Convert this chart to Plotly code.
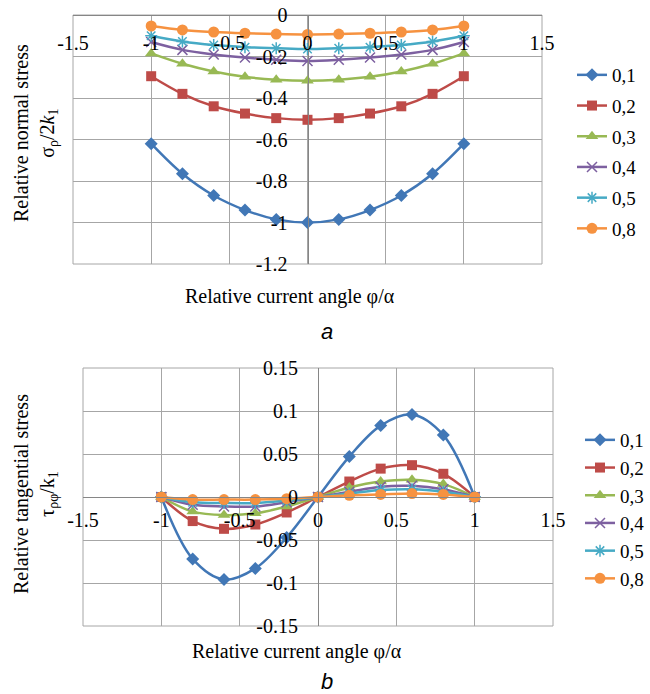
import plotly.graph_objects as go

# ---------------- data ----------------
phi = [-1, -0.8, -0.6, -0.4, -0.2, 0, 0.2, 0.4, 0.6, 0.8, 1]
series_names = ["0,1", "0,2", "0,3", "0,4", "0,5", "0,8"]

sigma_01 = [-0.62, -0.765, -0.87, -0.94, -0.985, -1.0, -0.985, -0.94, -0.87, -0.765, -0.62]
sigma_02 = [-0.295, -0.38, -0.44, -0.475, -0.497, -0.505, -0.497, -0.475, -0.44, -0.38, -0.295]
sigma_03 = [-0.185, -0.235, -0.272, -0.298, -0.312, -0.317, -0.312, -0.298, -0.272, -0.235, -0.185]
sigma_04 = [-0.13, -0.168, -0.19, -0.205, -0.216, -0.222, -0.216, -0.205, -0.19, -0.168, -0.13]
sigma_05 = [-0.1, -0.128, -0.145, -0.155, -0.16, -0.164, -0.16, -0.155, -0.145, -0.128, -0.1]
sigma_08 = [-0.053, -0.072, -0.082, -0.088, -0.092, -0.094, -0.092, -0.088, -0.082, -0.072, -0.053]

tau_01 = [0, -0.072, -0.096, -0.083, -0.047, 0, 0.047, 0.083, 0.096, 0.072, 0]
tau_02 = [0, -0.028, -0.037, -0.032, -0.018, 0, 0.018, 0.033, 0.037, 0.027, 0]
tau_03 = [0, -0.017, -0.021, -0.019, -0.011, 0, 0.011, 0.018, 0.02, 0.015, 0]
tau_04 = [0, -0.009, -0.011, -0.011, -0.006, 0, 0.006, 0.012, 0.013, 0.009, 0]
tau_05 = [0, -0.006, -0.007, -0.007, -0.004, 0, 0.004, 0.008, 0.009, 0.006, 0]
tau_08 = [0, -0.003, -0.003, -0.003, -0.002, 0, 0.002, 0.003, 0.004, 0.003, 0]

x_ticks = [-1.5, -1, -0.5, 0, 0.5, 1, 1.5]
x_ticktext = ["-1.5", "-1", "-0.5", "0", "0.5", "1", "1.5"]
sigma_ticks = [0, -0.2, -0.4, -0.6, -0.8, -1.0, -1.2]
sigma_ticktext = ["0", "-0.2", "-0.4", "-0.6", "-0.8", "-1", "-1.2"]
tau_ticks = [0.15, 0.1, 0.05, 0, -0.05, -0.1, -0.15]
tau_ticktext = ["0.15", "0.1", "0.05", "0", "-0.05", "-0.1", "-0.15"]

sigma_series = [sigma_01, sigma_02, sigma_03, sigma_04, sigma_05, sigma_08]
tau_series = [tau_01, tau_02, tau_03, tau_04, tau_05, tau_08]

# ---------------- styles ----------------
colors = ["#4177B6", "#BE4B48", "#98B954", "#7D60A0", "#46AAC5", "#F69240"]
symbols = ["diamond", "square", "triangle-up", "x-thin-open", "asterisk-open", "circle"]
msizes = [10, 10, 11, 10, 10, 11]

W, H = 650, 694
SERIF = "Liberation Serif"

def px_x(p):
    return p / W

def px_y(p):
    return (H - p) / H

top_dom_x = [px_x(73), px_x(542)]
top_dom_y = [px_y(264), px_y(15)]
bot_dom_x = [px_x(83), px_x(553)]
bot_dom_y = [px_y(626), px_y(368)]

fig = go.Figure()

for i in range(6):
    mk = dict(symbol=symbols[i], size=msizes[i], color=colors[i])
    if "open" in symbols[i]:
        mk["line"] = dict(color=colors[i], width=1.5)
    fig.add_trace(go.Scatter(
        x=phi, y=sigma_series[i], name=series_names[i],
        mode="lines+markers", line=dict(color=colors[i], width=2.5, shape="spline", smoothing=1),
        marker=mk, xaxis="x", yaxis="y", legend="legend", legendgroup="a" + str(i)))
for i in range(6):
    mk = dict(symbol=symbols[i], size=msizes[i], color=colors[i])
    if "open" in symbols[i]:
        mk["line"] = dict(color=colors[i], width=1.5)
    fig.add_trace(go.Scatter(
        x=phi, y=tau_series[i], name=series_names[i],
        mode="lines+markers", line=dict(color=colors[i], width=2.5, shape="spline", smoothing=1),
        marker=mk, xaxis="x2", yaxis="y2", legend="legend2", legendgroup="b" + str(i)))

GRID = "#A6A6A6"
AXL = "#868686"
tickfont = dict(family=SERIF, size=20, color="#000000")

fig.update_layout(
    width=W, height=H,
    margin=dict(l=0, r=0, t=0, b=0, autoexpand=False),
    paper_bgcolor="white", plot_bgcolor="white",
    showlegend=True,
    xaxis=dict(domain=top_dom_x, range=[-1.5, 1.5], anchor="free", position=top_dom_y[1],
               side="bottom", tickmode="array", tickvals=x_ticks, ticktext=x_ticktext,
               showgrid=True, gridcolor=GRID, gridwidth=1, zeroline=False,
               showline=True, linecolor=AXL, linewidth=1, ticks="", ticklabelstandoff=10,
               tickfont=tickfont),
    yaxis=dict(domain=top_dom_y, range=[-1.2, 0], anchor="free",
               position=(top_dom_x[0] + top_dom_x[1]) / 2, side="left",
               tickmode="array", tickvals=sigma_ticks, ticktext=sigma_ticktext,
               showgrid=True, gridcolor=GRID, gridwidth=1, zeroline=False,
               showline=True, linecolor=AXL, linewidth=1, ticks="", ticklabelstandoff=16,
               tickfont=tickfont),
    xaxis2=dict(domain=bot_dom_x, range=[-1.5, 1.5], anchor="free",
                position=(bot_dom_y[0] + bot_dom_y[1]) / 2, side="bottom",
                tickmode="array", tickvals=x_ticks, ticktext=x_ticktext,
                showgrid=True, gridcolor=GRID, gridwidth=1, zeroline=False,
                showline=True, linecolor=AXL, linewidth=1, ticks="", ticklabelstandoff=5,
                tickfont=tickfont),
    yaxis2=dict(domain=bot_dom_y, range=[-0.15, 0.15], anchor="free",
                position=(bot_dom_x[0] + bot_dom_x[1]) / 2, side="left",
                tickmode="array", tickvals=tau_ticks, ticktext=tau_ticktext,
                showgrid=True, gridcolor=GRID, gridwidth=1, zeroline=False,
                showline=True, linecolor=AXL, linewidth=1, ticks="", ticklabelstandoff=16,
                tickfont=tickfont),
    legend=dict(x=px_x(572), y=px_y(56), xanchor="left", yanchor="top",
                font=dict(family=SERIF, size=19, color="#000000"),
                bgcolor="rgba(0,0,0,0)", tracegroupgap=3, itemwidth=30),
    legend2=dict(x=px_x(580), y=px_y(421), xanchor="left", yanchor="top",
                 font=dict(family=SERIF, size=19, color="#000000"),
                 bgcolor="rgba(0,0,0,0)", tracegroupgap=0, itemwidth=30),
)

# plot area borders
for xr, yr in [("x", "y"), ("x2", "y2")]:
    fig.add_shape(type="rect", xref=xr + " domain", yref=yr + " domain",
                  x0=0, x1=1, y0=0, y1=1, line=dict(color=GRID, width=1), layer="below")

def ann(text, x, y, size=20, family=SERIF, angle=0):
    fig.add_annotation(text=text, x=px_x(x), y=px_y(y), xref="paper", yref="paper",
                       xanchor="center", yanchor="middle", showarrow=False,
                       textangle=angle, font=dict(family=family, size=size, color="#000"))

# axis titles
ann("Relative current angle φ/α", 290, 297)
ann("Relative current angle φ/α", 297, 651)
ann("Relative normal stress<br>σ<sub>ρ</sub>/2<i>k</i><sub>1</sub>", 35, 133, angle=-90)
ann("Relative tangential stress<br>τ<sub>ρφ</sub>/k<sub>1</sub>", 35, 494, angle=-90)
# panel labels
ann("<i>a</i>", 327, 331, size=22, family="Liberation Sans")
ann("<i>b</i>", 327, 681, size=22, family="Liberation Sans")

fig.write_html("out.html", config={"displayModeBar": False},
               post_script="document.body.style.margin='0';document.body.style.overflow='hidden';")
